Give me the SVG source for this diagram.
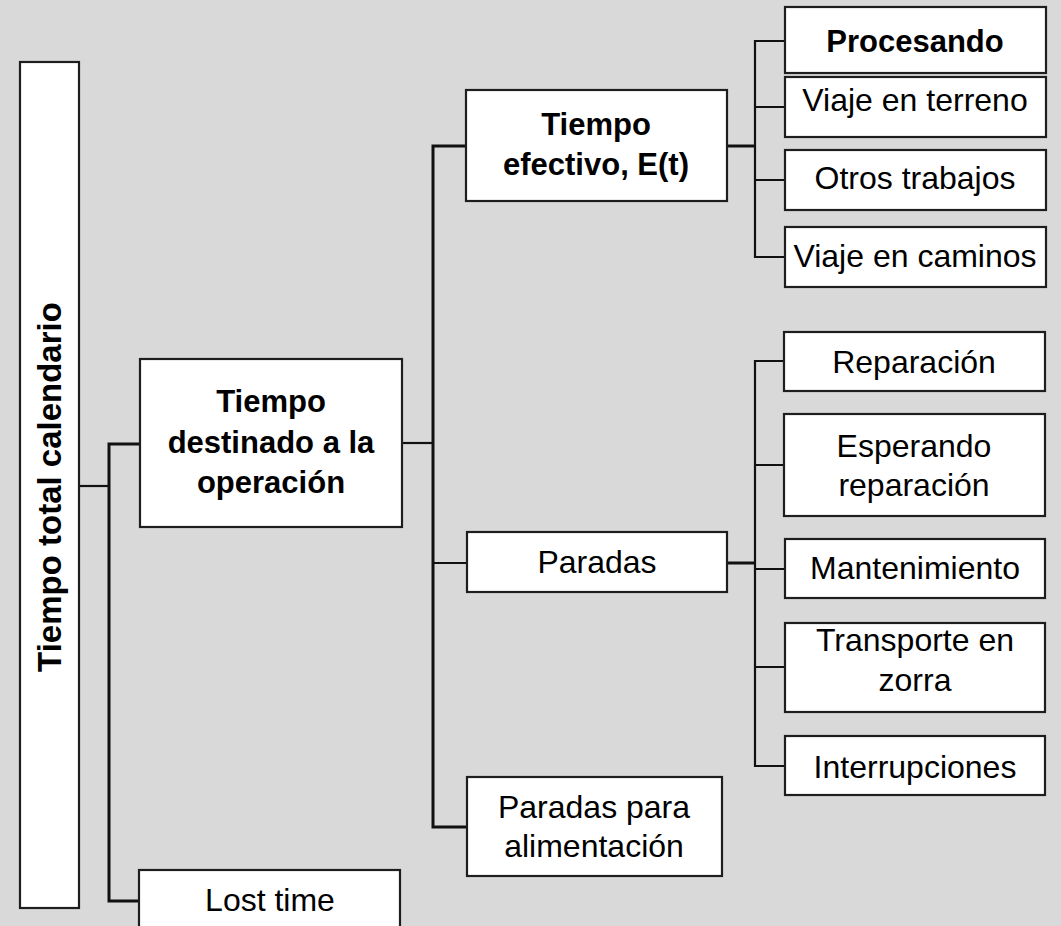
<svg xmlns="http://www.w3.org/2000/svg" width="1061" height="926" viewBox="0 0 1061 926">
<style>
.box{fill:#ffffff;stroke:#1e1e1e;stroke-width:2.2}
.t{font-family:"Liberation Sans",Arial,sans-serif;font-size:32px;fill:#000;text-anchor:middle}
.b{font-weight:bold;font-size:31px}
.c{fill:none;stroke:#111;stroke-width:2.2}
.k{fill:none;stroke:#111;stroke-width:3}
</style>
<rect width="1061" height="926" fill="#d9d9d9"/>
<g id="connectors">
<path class="c" d="M79,486 H109"/>
<path class="k" d="M140,444 H109 V901 H139"/>
<path class="c" d="M402,443 H433"/>
<path class="k" d="M466,146 H433 V827 H467"/>
<path class="c" d="M433,563 H467"/>
<path class="k" d="M727,146 H755"/>
<path class="c" d="M785,41 H755 V257 H785 M755,107 H785 M755,180 H785"/>
<path class="k" d="M727,563 H755"/>
<path class="c" d="M784,361 H755 V766 H784 M755,465 H784 M755,569 H785 M755,667 H785"/>
</g>
<g id="n-total">
<rect class="box" x="20" y="62" width="59" height="846"/>
<text class="t b" style="font-size:33px" transform="translate(61,487) rotate(-90)">Tiempo total calendario</text>
</g>
<g id="n-destinado">
<rect class="box" x="140" y="359" width="262" height="168"/>
<text class="t b" x="271" y="412">Tiempo</text>
<text class="t b" x="271" y="453">destinado a la</text>
<text class="t b" x="271" y="493">operación</text>
</g>
<g id="n-lost">
<rect class="box" x="139" y="870" width="261" height="80"/>
<text class="t" x="270" y="911">Lost time</text>
</g>
<g id="n-efectivo">
<rect class="box" x="466" y="90" width="261" height="111"/>
<text class="t b" x="596" y="135">Tiempo</text>
<text class="t b" x="596" y="175">efectivo, E(t)</text>
</g>
<g id="n-paradas">
<rect class="box" x="467" y="532" width="260" height="60"/>
<text class="t" x="597" y="573">Paradas</text>
</g>
<g id="n-alimentacion">
<rect class="box" x="467" y="777" width="255" height="99"/>
<text class="t" x="594" y="818">Paradas para</text>
<text class="t" x="594" y="857">alimentación</text>
</g>
<g id="n-procesando">
<rect class="box" x="785" y="7" width="261" height="66"/>
<text class="t b" x="915" y="52">Procesando</text>
</g>
<g id="n-terreno">
<rect class="box" x="785" y="77" width="261" height="60"/>
<text class="t" x="915" y="111">Viaje en terreno</text>
</g>
<g id="n-otros">
<rect class="box" x="785" y="150" width="261" height="60"/>
<text class="t" x="915" y="189">Otros trabajos</text>
</g>
<g id="n-caminos">
<rect class="box" x="785" y="227" width="261" height="60"/>
<text class="t" x="915" y="267">Viaje en caminos</text>
</g>
<g id="n-reparacion">
<rect class="box" x="784" y="332" width="261" height="59"/>
<text class="t" x="914" y="373">Reparación</text>
</g>
<g id="n-esperando">
<rect class="box" x="784" y="414" width="261" height="102"/>
<text class="t" x="914" y="457">Esperando</text>
<text class="t" x="914" y="496">reparación</text>
</g>
<g id="n-mantenimiento">
<rect class="box" x="785" y="539" width="260" height="59"/>
<text class="t" x="915" y="579">Mantenimiento</text>
</g>
<g id="n-transporte">
<rect class="box" x="785" y="623" width="260" height="89"/>
<text class="t" x="915" y="651">Transporte en</text>
<text class="t" x="915" y="691">zorra</text>
</g>
<g id="n-interrupciones">
<rect class="box" x="785" y="736" width="260" height="59"/>
<text class="t" x="915" y="778">Interrupciones</text>
</g>
</svg>
